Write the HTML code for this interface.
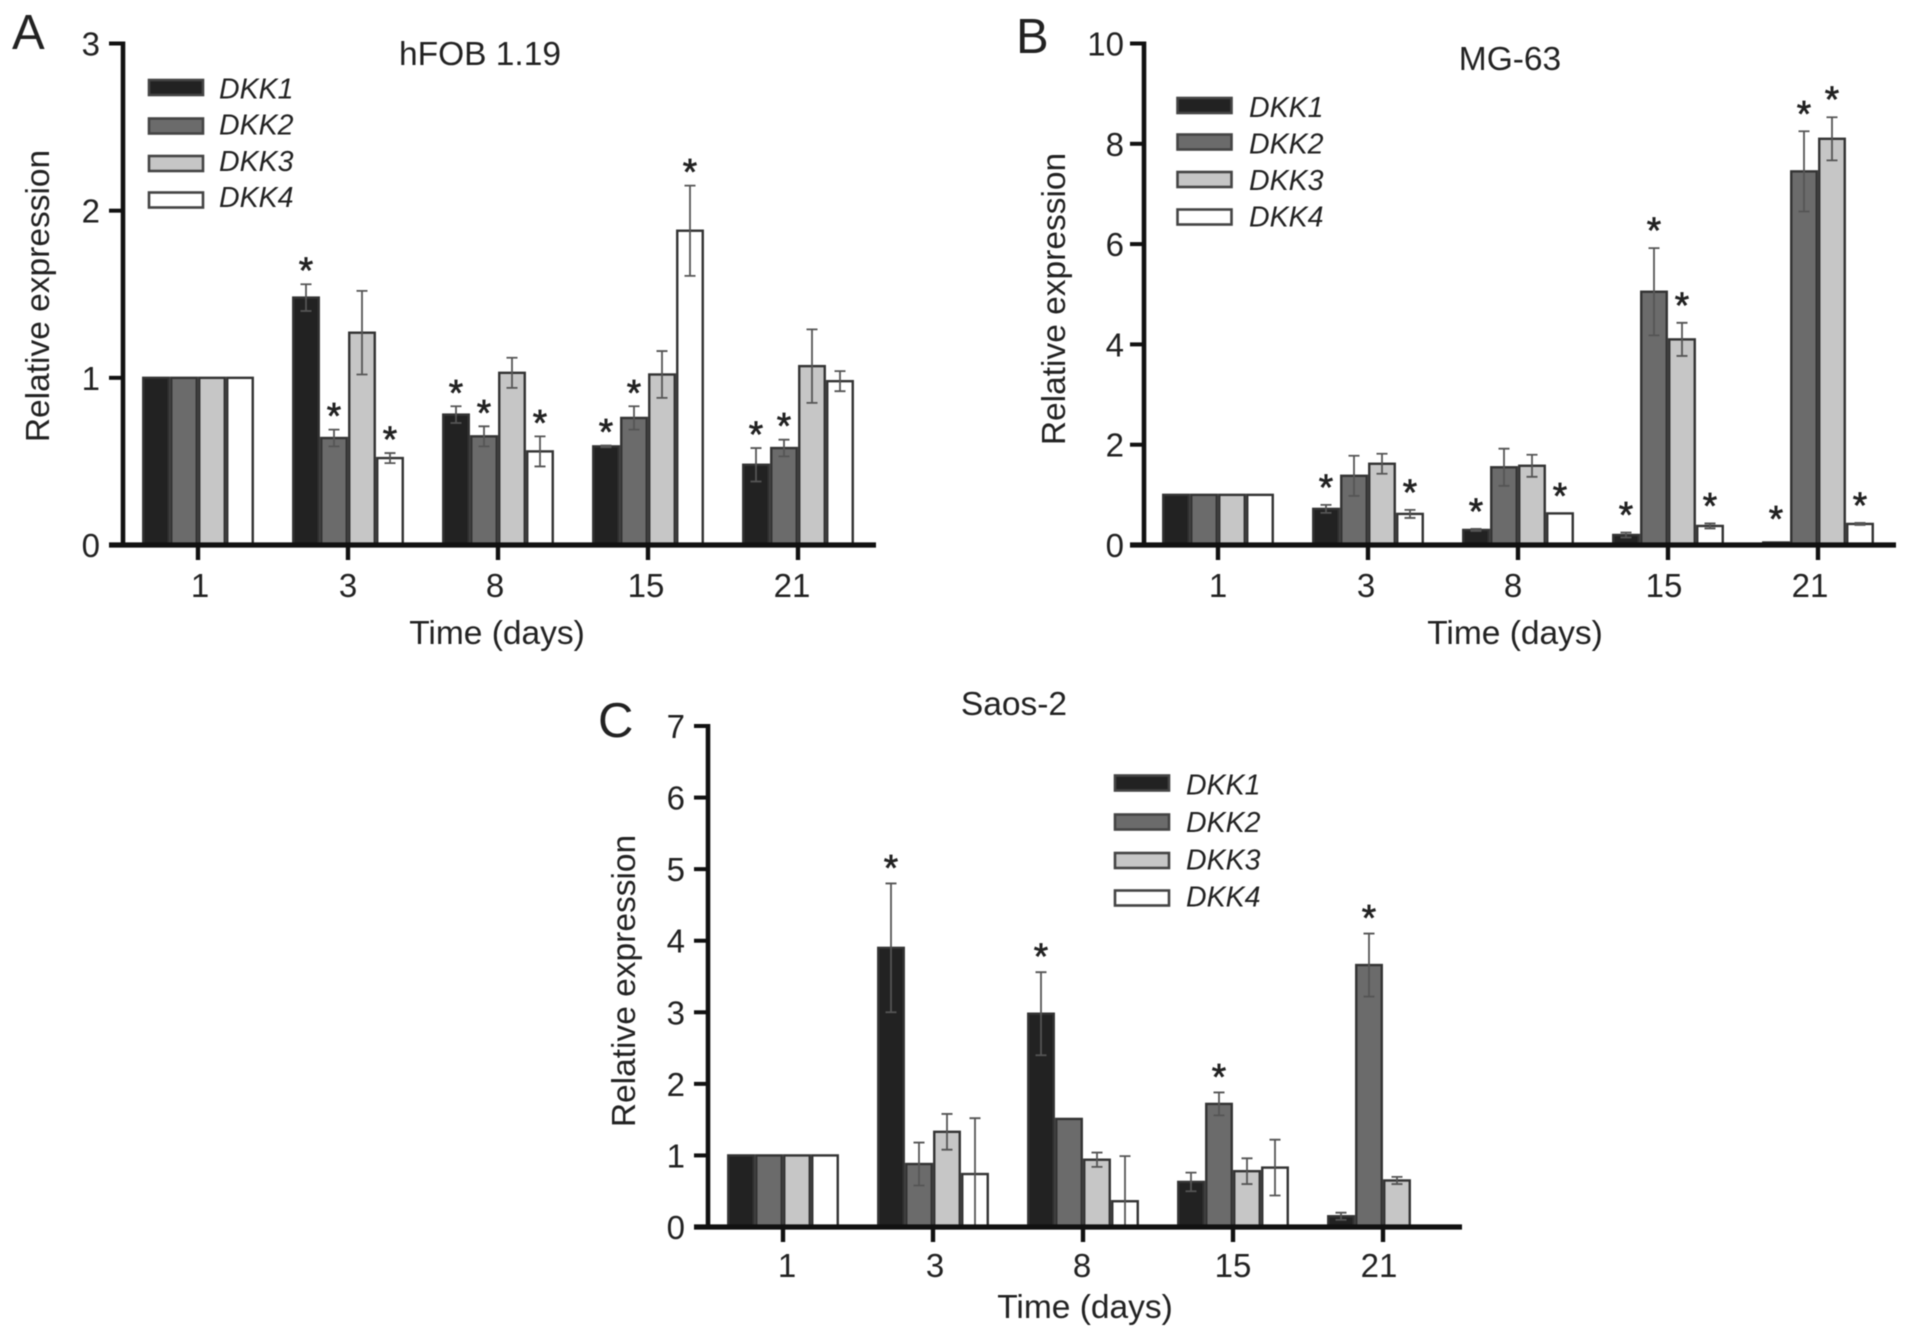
<!DOCTYPE html>
<html lang="en">
<head>
<meta charset="utf-8">
<title>DKK expression in hFOB 1.19, MG-63 and Saos-2</title>
<style>
html,body{margin:0;padding:0;background:#fff}
svg{display:block;filter:blur(0.6px)}
text{font-family:"Liberation Sans",sans-serif;fill:#222}
</style>
</head>
<body>
<svg id="figure" xmlns="http://www.w3.org/2000/svg" width="1913" height="1338" viewBox="0 0 1913 1338">
  <g id="panel-a">
    <text x="12" y="49" font-size="49">A</text>
    <text x="480" y="65" font-size="33.5" text-anchor="middle">hFOB 1.19</text>
    <text transform="translate(49 296) rotate(-90)" font-size="33.5" text-anchor="middle">Relative expression</text>
    <text x="497" y="644" font-size="33.5" text-anchor="middle">Time (days)</text>
    <g>
      <rect x="149" y="80" width="54" height="15" fill="#222" stroke="#444" stroke-width="2.6"/>
      <text x="219" y="98.5" font-size="28.5" font-style="italic">DKK1</text>
      <rect x="149" y="118.5" width="54" height="15" fill="#6b6b6b" stroke="#444" stroke-width="2.6"/>
      <text x="219" y="134.5" font-size="28.5" font-style="italic">DKK2</text>
      <rect x="149" y="156" width="54" height="15" fill="#c6c6c6" stroke="#444" stroke-width="2.6"/>
      <text x="219" y="171" font-size="28.5" font-style="italic">DKK3</text>
      <rect x="149" y="192.5" width="54" height="15" fill="#fff" stroke="#444" stroke-width="2.6"/>
      <text x="219" y="207" font-size="28.5" font-style="italic">DKK4</text>
    </g>
  </g>
  <g id="panel-b">
    <text x="1016" y="53" font-size="49">B</text>
    <text x="1510" y="70" font-size="33.5" text-anchor="middle">MG-63</text>
    <text transform="translate(1065 299) rotate(-90)" font-size="33.5" text-anchor="middle">Relative expression</text>
    <text x="1515" y="644" font-size="33.5" text-anchor="middle">Time (days)</text>
    <g>
      <rect x="1177.5" y="98" width="54" height="15" fill="#222" stroke="#444" stroke-width="2.6"/>
      <text x="1249" y="117" font-size="28.5" font-style="italic">DKK1</text>
      <rect x="1177.5" y="134.5" width="54" height="15" fill="#6b6b6b" stroke="#444" stroke-width="2.6"/>
      <text x="1249" y="153.5" font-size="28.5" font-style="italic">DKK2</text>
      <rect x="1177.5" y="172" width="54" height="15" fill="#c6c6c6" stroke="#444" stroke-width="2.6"/>
      <text x="1249" y="190" font-size="28.5" font-style="italic">DKK3</text>
      <rect x="1177.5" y="209.5" width="54" height="15" fill="#fff" stroke="#444" stroke-width="2.6"/>
      <text x="1249" y="226.5" font-size="28.5" font-style="italic">DKK4</text>
    </g>
  </g>
  <g id="panel-c">
    <text x="598" y="737" font-size="49">C</text>
    <text x="1014" y="715" font-size="33.5" text-anchor="middle">Saos-2</text>
    <text transform="translate(635 981) rotate(-90)" font-size="33.5" text-anchor="middle">Relative expression</text>
    <text x="1085" y="1318" font-size="33.5" text-anchor="middle">Time (days)</text>
    <g>
      <rect x="1115" y="775.5" width="54" height="15" fill="#222" stroke="#444" stroke-width="2.6"/>
      <text x="1186" y="794.5" font-size="28.5" font-style="italic">DKK1</text>
      <rect x="1115" y="814.5" width="54" height="15" fill="#6b6b6b" stroke="#444" stroke-width="2.6"/>
      <text x="1186" y="832" font-size="28.5" font-style="italic">DKK2</text>
      <rect x="1115" y="853" width="54" height="15" fill="#c6c6c6" stroke="#444" stroke-width="2.6"/>
      <text x="1186" y="869.5" font-size="28.5" font-style="italic">DKK3</text>
      <rect x="1115" y="890.5" width="54" height="15" fill="#fff" stroke="#444" stroke-width="2.6"/>
      <text x="1186" y="906.5" font-size="28.5" font-style="italic">DKK4</text>
    </g>
  </g>
</svg>
<script>
// Shared categories
const days = ['1', '3', '8', '15', '21'];
const genes = ['dkk1', 'dkk2', 'dkk3', 'dkk4'];

// Panel A: hFOB 1.19 (one row per day, one column per gene)
const hfobValues = [[1, 1, 1, 1], [1.48, 0.64, 1.27, 0.52], [0.78, 0.65, 1.03, 0.56], [0.59, 0.76, 1.02, 1.88], [0.48, 0.58, 1.07, 0.98]];
const hfobErrors = [[0, 0, 0, 0], [0.08, 0.05, 0.25, 0.03], [0.05, 0.06, 0.09, 0.09], [0.005, 0.07, 0.14, 0.27], [0.1, 0.05, 0.22, 0.06]];
const hfobStars = [[0, 0, 0, 0], [1, 1, 0, 1], [1, 1, 0, 1], [1, 1, 0, 1], [1, 1, 0, 0]];
const hfobTicks = [0, 1, 2, 3];

// Panel B: MG-63
const mg63Values = [[1, 1, 1, 1], [0.72, 1.38, 1.62, 0.62], [0.3, 1.55, 1.58, 0.63], [0.2, 5.05, 4.1, 0.38], [0.05, 7.45, 8.1, 0.42]];
const mg63Errors = [[0, 0, 0, 0], [0.08, 0.4, 0.2, 0.08], [0.02, 0.37, 0.22, 0], [0.05, 0.87, 0.33, 0.05], [0, 0.8, 0.43, 0.02]];
const mg63Stars = [[0, 0, 0, 0], [1, 0, 0, 1], [1, 0, 0, 1], [1, 1, 1, 1], [1, 1, 1, 1]];
const mg63Ticks = [0, 2, 4, 6, 8, 10];

// Panel C: Saos-2
const saosValues = [[1, 1, 1, 1], [3.9, 0.88, 1.33, 0.74], [2.98, 1.51, 0.94, 0.36], [0.63, 1.72, 0.78, 0.83], [0.15, 3.66, 0.65, 0]];
const saosErrors = [[0, 0, 0, 0], [0.9, 0.3, 0.25, 0.78], [0.58, 0, 0.1, 0.63], [0.13, 0.16, 0.18, 0.39], [0.05, 0.44, 0.05, 0]];
const saosStars = [[0, 0, 0, 0], [1, 0, 0, 0], [1, 0, 0, 0], [0, 1, 0, 0], [0, 1, 0, 0]];
const saosTicks = [0, 1, 2, 3, 4, 5, 6, 7];

const SVG_NS = 'http://www.w3.org/2000/svg';
const fills = ['#222222', '#6b6b6b', '#c6c6c6', '#ffffff'];
const labelShift = [2, 0, -3, -2, -6];

function make(parent, tag, attrs) {
  const el = document.createElementNS(SVG_NS, tag);
  for (const key in attrs) el.setAttribute(key, attrs[key]);
  parent.appendChild(el);
  return el;
}

function drawPanel(cfg) {
  const root = document.getElementById(cfg.id);
  const yScale = v => cfg.y0 - (v / cfg.yMax) * (cfg.y0 - cfg.yTop);
  const xScale = i => cfg.x0 + i * 150;
  const barStep = 28;
  const barWidth = 25.5;

  cfg.values.forEach((row, d) => {
    row.forEach((value, g) => {
      const cx = xScale(d) + (g - 1.5) * barStep;
      const top = yScale(value);
      const err = cfg.errors[d][g];

      if (value > 0) {
        const bar = make(root, 'rect', {x: cx - barWidth / 2, y: top, width: barWidth, height: cfg.y0 - top, fill: fills[g], stroke: '#333', 'stroke-width': 2.4});
        
        
      }

      if (err > 0) {
        const hi = yScale(value + err);
        const clipped = value - err <= 0;
        const lo = clipped ? cfg.y0 : yScale(value - err);
        const lowerCap = clipped ? '' : 'M' + (cx - 5.5) + ' ' + lo + 'H' + (cx + 5.5);
        const eb = make(root, 'path', {d: 'M' + cx + ' ' + hi + 'V' + lo + 'M' + (cx - 5.5) + ' ' + hi + 'H' + (cx + 5.5) + lowerCap, fill: 'none', stroke: '#555', 'stroke-width': 1.8});
        
        
      }

      if (cfg.stars[d][g]) {
        const anchor = Math.max(value + err, cfg.starFloor);
        const star = make(root, 'text', {x: cx, y: yScale(anchor) - cfg.starGap + 20, 'font-size': 37, 'text-anchor': 'middle', stroke: '#222', 'stroke-width': 0.7});
        star.textContent = '*';
        
        
      }
    });
  });

  const yAxis = make(root, 'line', {x1: cfg.axisX, x2: cfg.axisX, y1: cfg.yTop - 2, y2: cfg.y0 + 2.5, stroke: '#111', 'stroke-width': 4.6});
  
  

  const xAxis = make(root, 'line', {x1: cfg.axisX - 14, x2: cfg.axisEnd, y1: cfg.y0, y2: cfg.y0, stroke: '#111', 'stroke-width': 5.2});
  
  

  cfg.ticks.forEach(t => {
    const y = yScale(t);
    const tick = make(root, 'line', {x1: cfg.axisX - 14, x2: cfg.axisX, y1: y, y2: y, stroke: '#111', 'stroke-width': 4});
    
    
    const label = make(root, 'text', {x: cfg.axisX - cfg.labelGap, y: y + 12, 'font-size': 33, 'text-anchor': 'end'});
    label.textContent = String(t);
    
    
  });

  days.forEach((day, d) => {
    const x = xScale(d);
    const tick = make(root, 'line', {x1: x, x2: x, y1: cfg.y0, y2: cfg.y0 + 15, stroke: '#111', 'stroke-width': 4.4});
    
    
    const label = make(root, 'text', {x: x + labelShift[d] + cfg.labelNudge, y: cfg.xLabelY, 'font-size': 33, 'text-anchor': 'middle'});
    label.textContent = day;
    
    
  });
}

drawPanel({id: 'panel-a', key: 'a', values: hfobValues, errors: hfobErrors, stars: hfobStars, ticks: hfobTicks, yMax: 3, yTop: 43.5, y0: 545, axisX: 123, axisEnd: 876, x0: 198, labelGap: 23, labelNudge: 0, starGap: 21, starFloor: 0, xLabelY: 597});
drawPanel({id: 'panel-b', key: 'b', values: mg63Values, errors: mg63Errors, stars: mg63Stars, ticks: mg63Ticks, yMax: 10, yTop: 43.5, y0: 545, axisX: 1144, axisEnd: 1896, x0: 1218, labelGap: 20, labelNudge: -2, starGap: 25, starFloor: 0.17, xLabelY: 597});
drawPanel({id: 'panel-c', key: 'c', values: saosValues, errors: saosErrors, stars: saosStars, ticks: saosTicks, yMax: 7, yTop: 726, y0: 1227, axisX: 708, axisEnd: 1462, x0: 783, labelGap: 23, labelNudge: 2, starGap: 23, starFloor: 0, xLabelY: 1277});
</script>
</body>
</html>
